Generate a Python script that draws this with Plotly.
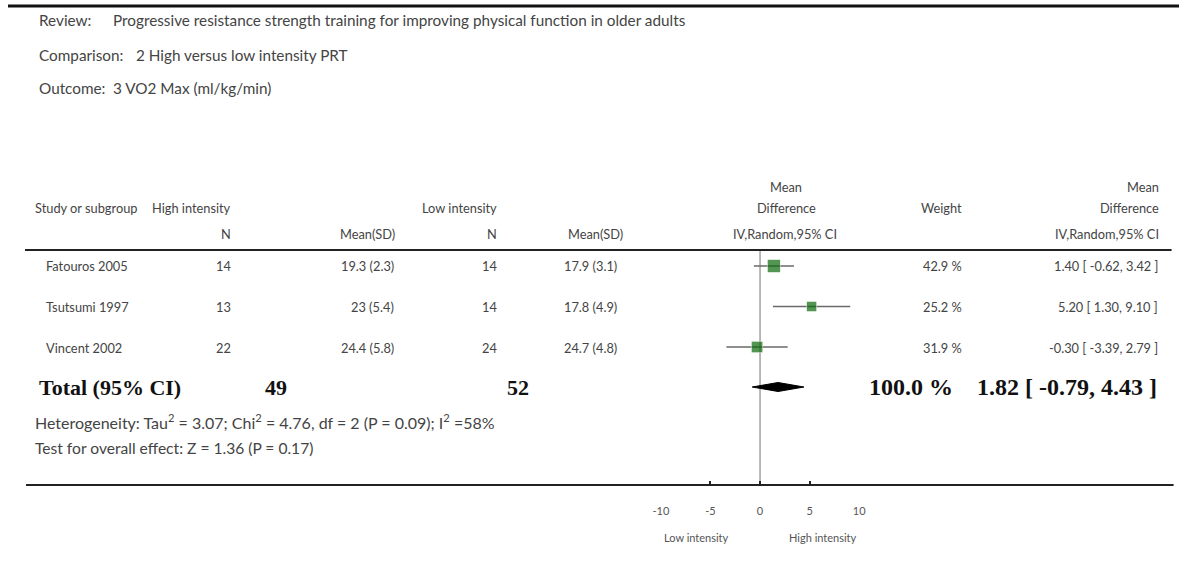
import plotly.graph_objects as go

# ---------------- data ----------------
studies = ["Fatouros 2005", "Tsutsumi 1997", "Vincent 2002"]
high_n = [14, 13, 22]
high_mean = [19.3, 23, 24.4]
high_sd = [2.3, 5.4, 5.8]
low_n = [14, 14, 24]
low_mean = [17.9, 17.8, 24.7]
low_sd = [3.1, 4.9, 4.8]
weights = [42.9, 25.2, 31.9]
md = [1.40, 5.20, -0.30]
ci_lo = [-0.62, 1.30, -3.39]
ci_hi = [3.42, 9.10, 2.79]

total_n_high = 49
total_n_low = 52
total_weight = 100.0
total_md = 1.82
total_lo = -0.79
total_hi = 4.43

tick_vals = [-10, -5, 0, 5, 10]
tick_text = ["-10", "-5", "0", "5", "10"]

review = "Progressive resistance strength training for improving physical function in older adults"
comparison = "2 High versus low intensity PRT"
outcome = "3 VO2 Max (ml/kg/min)"
heterogeneity = "Heterogeneity: Tau<sup>2</sup> = 3.07; Chi<sup>2</sup> = 4.76, df = 2 (P = 0.09); I<sup>2</sup> =58%"
overall = "Test for overall effect: Z = 1.36 (P = 0.17)"

# ---------------- layout helpers ----------------
W, H = 1186, 576
FONT = "Lato"
TXT = "#444444"
SERIF = "Liberation Serif"
TS = 12.8   # table text size
IS = 15.3   # info text size


def px(x):
    # horizontal position (reference pixels) -> paper fraction, with a small calibration
    return ((x - 8) / 0.986) / W


def py(y):
    return 1 - y / H


annotations = []


def text(x, y, s, anchor="left", size=TS, bold=False, serif=False, color=TXT):
    annotations.append(dict(
        x=px(x), y=py(y), xref="paper", yref="paper", text=s, showarrow=False,
        xanchor=anchor, yanchor="middle", borderpad=0,
        font=dict(family=SERIF if serif else FONT, size=size, color=color,
                  weight="bold" if bold else "normal"),
    ))


# header info
text(38, 20, "Review:", size=IS)
text(112, 20, review, size=IS)
text(38, 55, "Comparison:", size=IS)
text(135, 55, comparison, size=IS)
text(38, 88, "Outcome:", size=IS)
text(112, 88, outcome, size=IS)

# column headers
text(785, 187, "Mean", "center")
text(1158, 187, "Mean", "right")
text(34, 208, "Study or subgroup")
text(232, 208, "High intensity", "right")
text(497, 208, "Low intensity", "right")
text(785, 208, "Difference", "center")
text(962, 208, "Weight", "right")
text(1158, 208, "Difference", "right")
text(232, 234, "N", "right")
text(367, 234, "Mean(SD)", "center")
text(497, 234, "N", "right")
text(595, 234, "Mean(SD)", "center")
text(784, 234, "IV,Random,95% CI", "center")
text(1158, 234, "IV,Random,95% CI", "right")

# study rows
row_y = [266, 307, 348]
for i, s in enumerate(studies):
    y = row_y[i]
    text(45, y, s)
    text(232, y, f"{high_n[i]}", "right")
    text(394, y, f"{high_mean[i]:g} ({high_sd[i]:g})", "right")
    text(497, y, f"{low_n[i]}", "right")
    text(617, y, f"{low_mean[i]:g} ({low_sd[i]:g})", "right")
    text(962, y, f"{weights[i]:.1f} %", "right")
    text(1157, y, f"{md[i]:.2f} [ {ci_lo[i]:.2f}, {ci_hi[i]:.2f} ]", "right")

# total row
BS = 22
text(38, 387, "Total (95% CI)", bold=True, serif=True, size=BS, color="#111")
text(276, 387, f"{total_n_high}", "center", bold=True, serif=True, size=BS, color="#111")
text(517, 387, f"{total_n_low}", "center", bold=True, serif=True, size=BS, color="#111")
text(953, 387, f"{total_weight:.1f} %", "right", bold=True, serif=True, size=24, color="#111")
text(1156, 387, f"{total_md:.2f} [ {total_lo:.2f}, {total_hi:.2f} ]", "right",
     bold=True, serif=True, size=24, color="#111")
text(34, 421, heterogeneity, size=16)
text(34, 448, overall, size=15.6)

# ---------------- forest plot ----------------
row_pitch = 40.5
plot_top, plot_bot = 250, 485
y_top = (plot_top - row_y[0]) / row_pitch
y_bot = (plot_bot - row_y[0]) / row_pitch
rows = [0, 1, 2]
total_row = (387 - row_y[0]) / row_pitch
sizes = [1.9 * w ** 0.5 for w in weights]

fig = go.Figure()

# CI lines
fig.add_trace(go.Scatter(
    x=md, y=rows, mode="markers",
    marker=dict(symbol="square", color="rgba(0,0,0,0)", size=sizes),
    error_x=dict(type="data", symmetric=False,
                 array=[h - m for h, m in zip(ci_hi, md)],
                 arrayminus=[m - l for m, l in zip(md, ci_lo)],
                 width=0, thickness=1.3, color="#6a6a6a"),
    cliponaxis=False, showlegend=False, hoverinfo="skip",
))
# squares
fig.add_trace(go.Scatter(
    x=md, y=rows, mode="markers",
    marker=dict(symbol="square", color="#0a6a0a", size=sizes, line=dict(width=0)),
    cliponaxis=False, showlegend=False, hoverinfo="skip",
))

# diamond
dh = 4.5 / row_pitch
fig.add_trace(go.Scatter(
    x=[total_lo, total_md, total_hi, total_md, total_lo],
    y=[total_row, total_row - dh, total_row, total_row + dh, total_row],
    mode="lines", fill="toself", fillcolor="#000", line=dict(color="#000", width=1),
    showlegend=False, hoverinfo="skip",
))

shapes = [
    # zero line
    dict(type="line", xref="x", yref="paper", x0=0, x1=0, y0=py(plot_bot), y1=py(plot_top),
         line=dict(color="#8a8a8a", width=1.2), layer="below"),
    # top rule
    dict(type="line", xref="paper", yref="paper", x0=0, x1=1, y0=py(6), y1=py(6),
         line=dict(color="#111", width=3)),
    # header rule
    dict(type="line", xref="paper", yref="paper", x0=px(25), x1=px(1170), y0=py(250), y1=py(250),
         line=dict(color="#222", width=2)),
    # bottom rule / axis line
    dict(type="line", xref="paper", yref="paper", x0=px(26), x1=px(1172), y0=py(485), y1=py(485),
         line=dict(color="#222", width=2)),
]

annotations.append(dict(x=-6.4, y=py(537), xref="x", yref="paper", text="Low intensity",
                        showarrow=False, xanchor="center", yanchor="middle",
                        font=dict(family=FONT, size=11, color="#555")))
annotations.append(dict(x=6.4, y=py(537), xref="x", yref="paper", text="High intensity",
                        showarrow=False, xanchor="center", yanchor="middle",
                        font=dict(family=FONT, size=11, color="#555")))

fig.update_layout(
    width=W, height=H, margin=dict(l=0, r=0, t=0, b=0),
    paper_bgcolor="white", plot_bgcolor="rgba(0,0,0,0)",
    showlegend=False,
    xaxis=dict(domain=[px(660), px(858)], range=[-10, 10], tickvals=tick_vals, ticktext=tick_text,
               ticks="inside", ticklen=4, tickwidth=1.5, tickcolor="#222",
               showgrid=False, zeroline=False, showline=False,
               ticklabelstandoff=18,
               tickfont=dict(family=FONT, size=11, color="#555"), fixedrange=True),
    yaxis=dict(domain=[py(plot_bot), py(plot_top)], range=[y_bot, y_top], visible=False,
               showgrid=False, zeroline=False, fixedrange=True),
    shapes=shapes, annotations=annotations,
)

fig.write_html("out.html", config={"displayModeBar": False},
               post_script="document.body.style.margin='0';document.body.style.overflow='hidden';")
